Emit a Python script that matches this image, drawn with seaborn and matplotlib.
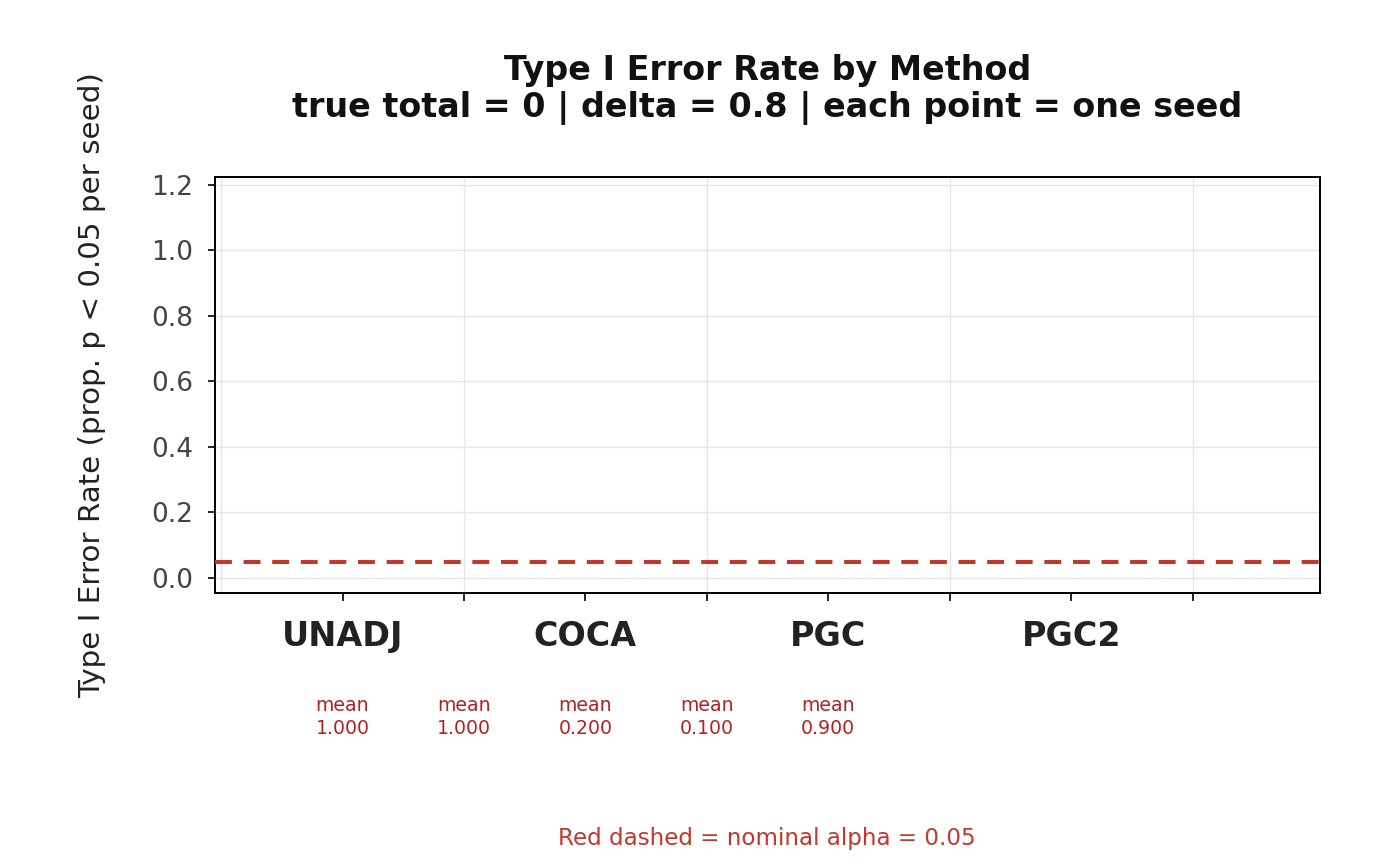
import numpy as np
import pandas as pd
import matplotlib
matplotlib.use("Agg")
import matplotlib.pyplot as plt
import matplotlib.transforms as mtransforms
from matplotlib.ticker import FixedLocator
import seaborn as sns

# ---- data ----
tick_labels = ["UNADJ", "", "COCA", "", "PGC", "", "PGC2", ""]
mean_positions = [0, 1, 2, 3, 4]
mean_values = [1.000, 1.000, 0.200, 0.100, 0.900]
alpha_nominal = 0.05
y_ticks = [0.0, 0.2, 0.4, 0.6, 0.8, 1.0, 1.2]
x_grid_positions = [-1, 1, 3, 5, 7]

title_text = "Type I Error Rate by Method\ntrue total = 0 | delta = 0.8 | each point = one seed"
ylabel_text = "Type I Error Rate (prop. p < 0.05 per seed)"
footer_text = "Red dashed = nominal alpha = 0.05"

sns.set_theme(style="white")
plt.rcParams["font.family"] = ["DejaVu Sans"]

fig = plt.figure(figsize=(7, 4.33), dpi=200)
ax = fig.add_axes([0.1536, 0.3152, 0.7893, 0.4804])

# reference line through seaborn
ref = pd.DataFrame({"x": [-1.05, 8.05], "y": [alpha_nominal, alpha_nominal]})
sns.lineplot(data=ref, x="x", y="y", ax=ax, color="#c0392b", lw=1.45,
             linestyle=(0, (4.2, 2.9)), zorder=3)

ax.set_xlim(-1.05, 8.05)
ax.set_ylim(-0.046, 1.224)

ax.set_xticks(range(len(tick_labels)))
ax.set_xticklabels(tick_labels, fontsize=12, fontweight="bold", color="#222222")
ax.xaxis.remove_overlapping_locs = False
ax.xaxis.set_minor_locator(FixedLocator(x_grid_positions))
ax.set_yticks(y_ticks)
ax.set_yticklabels([f"{v:.1f}" for v in y_ticks], fontsize=9.5, color="#444444")

ax.set_axisbelow(True)
ax.grid(False)
ax.yaxis.grid(True, which="major", color="#e6e6e6", lw=0.5)
ax.xaxis.grid(True, which="minor", color="#e6e6e6", lw=0.5)
ax.tick_params(axis="x", which="major", length=3, width=0.6, color="black", pad=6.8, bottom=True)
ax.tick_params(axis="x", which="minor", length=0, bottom=True)
ax.tick_params(axis="y", which="major", length=2.5, width=0.6, color="black", pad=5.5, left=True)

for s in ax.spines.values():
    s.set_visible(True)
    s.set_color("black")
    s.set_linewidth(0.7)

ax.set_xlabel("")
ax.set_ylabel(ylabel_text, fontsize=10.6, color="#222222", labelpad=16)
ax.set_title(title_text, fontsize=12, fontweight="bold", color="#111111", pad=21.5,
             linespacing=1.15)

trans = mtransforms.blended_transform_factory(ax.transData, fig.transFigure)
for xp, mv in zip(mean_positions, mean_values):
    ax.text(xp, 1 - 717 / 866, f"mean\n{mv:.3f}", transform=trans, ha="center", va="center",
            fontsize=6.8, color="#b22222", linespacing=1.3, clip_on=False)

fig.text(767 / 1400, 1 - 839 / 866, footer_text, ha="center", va="center",
         fontsize=8.3, color="#c0392b")

fig.savefig("out.png", dpi=200)
